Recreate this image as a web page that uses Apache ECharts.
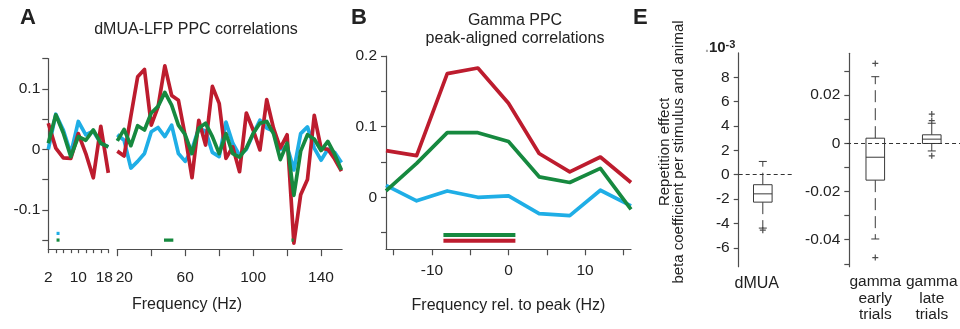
<!DOCTYPE html>
<html>
<head>
<meta charset="utf-8">
<script src="https://cdn.jsdelivr.net/npm/echarts@6/dist/echarts.min.js"></script>
<style>
html, body { margin: 0; background: #fff; }
#chart { width: 960px; height: 329px; }
</style>
</head>
<body>
<div id="chart"></div>
<script>
// ---- panel A : dMUA-LFP PPC correlations ----
var freqLow = [2, 4, 6, 8, 10, 12, 14, 16, 18];
var blueLow = [0.0, 0.058, 0.032, -0.007, 0.046, 0.024, 0.03, 0.01, 0.004];
var redLow = [0.043, 0.002, -0.014, -0.015, 0.026, -0.007, -0.047, 0.038, -0.039];
var greenLow = [0.01, 0.057, 0.027, -0.012, 0.021, 0.015, 0.032, 0.01, 0.004];

var freqHigh = [20, 24, 28, 32, 36, 40, 44, 48, 52, 56, 60, 64, 68, 72, 76, 80, 84,
  88, 92, 96, 100, 104, 108, 112, 116, 120, 124, 128, 132, 136, 140, 144, 148, 152];
var blueHigh = [0.024, 0.015, -0.031, -0.02, -0.007, 0.029, 0.036, 0.021, 0.04, -0.007,
  -0.02, 0.0, 0.035, 0.03, -0.005, -0.012, 0.045, 0.01, -0.01, 0.0,
  0.025, 0.048, 0.035, 0.03, 0.0, 0.005, -0.034, 0.026, 0.037, 0.002,
  -0.018, 0.0, -0.005, -0.022];
var redHigh = [-0.003, -0.011, 0.055, 0.12, 0.132, 0.04, 0.07, 0.138, 0.089, 0.081,
  0.022, -0.047, 0.048, 0.007, 0.104, 0.076, -0.015, 0.004, -0.037, 0.06,
  0.032, -0.001, 0.082, 0.035, 0.002, 0.024, -0.155, -0.075, -0.05, 0.056,
  0.002, 0.0, -0.016, -0.036];
var greenHigh = [0.014, 0.033, 0.006, 0.039, 0.032, 0.06, 0.071, 0.094, 0.073, 0.04,
  0.024, -0.007, 0.035, 0.043, 0.021, -0.007, 0.026, -0.007, -0.013, 0.002,
  0.026, 0.043, 0.046, 0.026, -0.017, 0.01, -0.076, -0.003, 0.024, 0.017,
  -0.002, 0.013, -0.008, -0.034];

// significance marks (frequency ranges) and their levels
var sigBlueLow = [[4.2, 5.0]];
var sigGreenLow = [[4.2, 5.0]];
var sigGreenHigh = [[47.5, 53], [122.6, 123.8]];
var sigLevelBlueA = -0.139;
var sigLevelGreenA = -0.15;

var ticksALow = [2, 4, 6, 8, 10, 12, 14, 16, 18];
var labelsALow = [2, 10, 18];
var ticksAHigh = [20, 40, 60, 80, 100, 120, 140];
var labelsAHigh = [20, 60, 100, 140];
var ticksAY = [-0.15, -0.1, -0.05, 0, 0.05, 0.1, 0.15];
var labelsAY = [-0.1, 0, 0.1];

// ---- panel B : gamma PPC peak-aligned ----
var relFreq = [-16, -12, -8, -4, 0, 4, 8, 12, 16];
var redB = [0.066, 0.059, 0.175, 0.183, 0.133, 0.062, 0.036, 0.057, 0.021];
var greenB = [0.009, 0.048, 0.0915, 0.0915, 0.079, 0.029, 0.021, 0.041, -0.017];
var blueB = [0.017, -0.005, 0.009, 0.0, 0.002, -0.023, -0.026, 0.010, -0.012];
var sigGreenB = [[-8.5, 0.9]];
var sigRedB = [[-8.5, 0.9]];
var sigLevelGreenB = -0.0534;
var sigLevelRedB = -0.0614;
var ticksBX = [-15, -10, -5, 0, 5, 10, 15];
var labelsBX = [-10, 0, 10];
var ticksBY = [-0.05, 0, 0.05, 0.1, 0.15, 0.2];
var labelsBY = [0, 0.1, 0.2];

// ---- panel E : repetition effect boxplots ----
var catsDmua = ['dMUA'];
// [min whisker, q1, median, q3, max whisker]  (units 1e-3)
var boxDmua = [[-4.38, -2.25, -1.57, -0.82, 1.09]];
var outDmua = [[0, -4.55]];
var ticksE1 = [-6, -4, -2, 0, 2, 4, 6, 8];

var catsGamma = ['gamma\nearly\ntrials', 'gamma\nlate\ntrials'];
var boxGamma = [
  [-0.0397, -0.0153, -0.0058, 0.0021, 0.0276],
  [-0.0032, -0.0001, 0.0017, 0.0035, 0.0083]
];
var outGamma = [[0, 0.0331], [0, -0.0474], [1, 0.0121], [1, 0.0094], [1, -0.0052]];
var ticksE2 = [-0.05, -0.04, -0.03, -0.02, -0.01, 0, 0.01, 0.02, 0.03];
var labelsE2 = [-0.04, -0.02, 0, 0.02];

var RED = '#BD1C2E', GREEN = '#16893F', BLUE = '#1FAEE6';
var AX = '#4d4d4d', TXT = '#222';
var FONT = '"Liberation Sans", Arial, Helvetica, sans-serif';
var TICK_FS = 15.5;

function pairs(xs, ys) {
  return xs.map(function (x, i) { return [x, ys[i]]; });
}
function segs(ranges, level) {
  var out = [];
  ranges.forEach(function (r, i) {
    if (i) out.push(null);
    out.push([r[0], level], [r[1], level]);
  });
  return out;
}
function lineS(data, color, xi, width, z) {
  return {
    type: 'line', data: data, xAxisIndex: xi, yAxisIndex: xi,
    symbol: 'none', silent: true, connectNulls: false, clip: false, z: z || 2,
    lineStyle: { color: color, width: width || 3.7, cap: 'butt', join: 'round' }
  };
}
function valueAxis(grid, min, max, ticks, labels, tickLen, margin, extra) {
  var a = {
    type: 'value', gridIndex: grid, min: min, max: max,
    splitLine: { show: false },
    axisLine: { show: true, onZero: false, lineStyle: { color: AX, width: 1.2 } },
    axisTick: { show: true, length: tickLen, customValues: ticks, lineStyle: { color: AX, width: 1.2 } },
    axisLabel: { show: true, customValues: labels, margin: margin, color: TXT,
      fontSize: TICK_FS, fontFamily: FONT }
  };
  for (var k in extra) a[k] = extra[k];
  return a;
}

function boxItem(params, api) {
  var c = api.value(0);
  var lo = api.coord([c, api.value(1)]);
  var q1 = api.coord([c, api.value(2)]);
  var md = api.coord([c, api.value(3)]);
  var q3 = api.coord([c, api.value(4)]);
  var hi = api.coord([c, api.value(5)]);
  var x = md[0], hw = 9.3, cw = 4;
  var solid = { stroke: '#3a3a3a', lineWidth: 1 };
  var dash = { stroke: '#3a3a3a', lineWidth: 1, lineDash: [12, 6] };
  return {
    type: 'group',
    children: [
      { type: 'line', shape: { x1: x, y1: q3[1], x2: x, y2: hi[1] }, style: dash },
      { type: 'line', shape: { x1: x, y1: q1[1], x2: x, y2: lo[1] }, style: dash },
      { type: 'line', shape: { x1: x - cw, y1: hi[1], x2: x + cw, y2: hi[1] }, style: solid },
      { type: 'line', shape: { x1: x - cw, y1: lo[1], x2: x + cw, y2: lo[1] }, style: solid },
      { type: 'rect', shape: { x: x - hw, y: q3[1], width: 2 * hw, height: q1[1] - q3[1] },
        style: { fill: '#fff', stroke: '#3a3a3a', lineWidth: 1 } },
      { type: 'line', shape: { x1: x - hw, y1: md[1], x2: x + hw, y2: md[1] }, style: solid }
    ]
  };
}
function boxData(stats) {
  return stats.map(function (s, i) { return [i].concat(s); });
}
var PLUS = 'path://M4,0h2v4h4v2h-4v4h-2v-4h-4v-2h4z';
var zeroLine = {
  silent: true, symbol: ['none', 'none'],
  label: { show: false },
  lineStyle: { color: '#333', width: 1, type: [4, 3] }
};

function title(text, cx, cy, size, weight, align) {
  return {
    text: text, left: cx, top: cy, padding: 0,
    textAlign: align || 'center', textVerticalAlign: 'middle',
    textStyle: { fontSize: size || 16, fontWeight: weight || 'normal', color: TXT, fontFamily: FONT }
  };
}

var chart = echarts.init(document.getElementById('chart'), null, { renderer: 'canvas' });
var option = {
  animation: false,
  backgroundColor: '#fff',
  title: [
    title('A', 20, 18, 22, 'bold', 'left'),
    title('dMUA-LFP PPC correlations', 196, 30),
    title('Frequency (Hz)', 187, 305),
    title('B', 351, 18, 22, 'bold', 'left'),
    title('Gamma PPC', 515, 21),
    title('peak-aligned correlations', 515, 39),
    title('E', 633, 18, 22, 'bold', 'left'),
    {
      text: '{d|.}{a|10}{b|-3}', left: 705, top: 48, padding: 0,
      textAlign: 'left', textVerticalAlign: 'middle',
      textStyle: { fontFamily: FONT, rich: {
        d: { color: '#aaa', fontSize: 14, fontFamily: FONT },
        a: { color: TXT, fontSize: 15, fontFamily: FONT },
        b: { color: TXT, fontSize: 11, fontFamily: FONT, verticalAlign: 'top', padding: [0, 0, 7, 0] }
      } }
    }
  ],
  graphic: [{
    type: 'text', x: 672, y: 152, rotation: Math.PI / 2, silent: true,
    style: {
      text: 'Repetition effect\nbeta coefficient per stimulus and animal',
      font: '15px ' + FONT, fill: TXT, textAlign: 'center', textVerticalAlign: 'middle',
      lineHeight: 14.5
    }
  }],
  grid: [
    { left: 48.3, top: 58.55, width: 60, height: 190.6 },
    { left: 117.3, top: 58.55, width: 224.8, height: 190.6 },
    { left: 386, top: 56, width: 245, height: 193.3 },
    { left: 738.7, top: 52.9, width: 48.2, height: 213.8 },
    { left: 847.05, top: 53.3, width: 126.6, height: 213.4 }
  ],
  xAxis: [
    valueAxis(0, 2, 18, ticksALow, labelsALow, 4, 21, {
      axisLabel: { show: true, customValues: labelsALow, margin: 21, color: TXT,
        fontSize: TICK_FS, fontFamily: FONT,
        formatter: function (v) { return v === 18 ? '{r|18}' : String(v); },
        rich: { r: { fontSize: TICK_FS, fontFamily: FONT, color: TXT, padding: [0, 8, 0, 0] } } }
    }),
    valueAxis(1, 20, 152.4, ticksAHigh, labelsAHigh, 7, 21, {
      axisLabel: { show: true, customValues: labelsAHigh, margin: 21, color: TXT,
        fontSize: TICK_FS, fontFamily: FONT,
        formatter: function (v) { return v === 20 ? '{l|20}' : String(v); },
        rich: { l: { fontSize: TICK_FS, fontFamily: FONT, color: TXT, padding: [0, 0, 0, 14] } } }
    }),
    valueAxis(2, -16, 16, ticksBX, labelsBX, 6, 13, {
      name: 'Frequency rel. to peak (Hz)', nameLocation: 'middle', nameGap: 48,
      nameTextStyle: { fontSize: 16, color: TXT, fontFamily: FONT }
    }),
    {
      type: 'category', gridIndex: 3, data: catsDmua,
      axisLine: { show: false }, axisTick: { show: false },
      axisLabel: { margin: 9, color: TXT, fontSize: 16, fontFamily: FONT,
        formatter: function (v) { return '{s|' + v + '}'; },
        rich: { s: { fontSize: 16, fontFamily: FONT, color: TXT, padding: [0, 12, 0, 0] } } }
    },
    {
      type: 'category', gridIndex: 4, data: catsGamma,
      axisLine: { show: false }, axisTick: { show: false },
      axisLabel: { margin: 7, interval: 0, hideOverlap: false, color: TXT, fontSize: 15.5,
        lineHeight: 16.5, fontFamily: FONT }
    }
  ],
  yAxis: [
    valueAxis(0, -0.165, 0.15, ticksAY, labelsAY, 6, 8),
    { type: 'value', gridIndex: 1, min: -0.165, max: 0.15, show: false },
    valueAxis(2, -0.0736, 0.2, ticksBY, labelsBY, 5, 9),
    valueAxis(3, -7.55, 10, ticksE1, ticksE1, 5, 9),
    valueAxis(4, -0.0512, 0.0373, ticksE2, labelsE2, 5, 9, { offset: -2.25 })
  ],
  series: [
    lineS(pairs(freqLow, blueLow), BLUE, 0),
    lineS(pairs(freqLow, redLow), RED, 0),
    lineS(pairs(freqLow, greenLow), GREEN, 0),
    lineS(pairs(freqHigh, blueHigh), BLUE, 1),
    lineS(pairs(freqHigh, redHigh), RED, 1),
    lineS(pairs(freqHigh, greenHigh), GREEN, 1),
    lineS(segs(sigBlueLow, sigLevelBlueA), BLUE, 0, 3.2, 5),
    lineS(segs(sigGreenLow, sigLevelGreenA), GREEN, 0, 3.2, 5),
    lineS(segs(sigGreenHigh, sigLevelGreenA), GREEN, 1, 3.2, 5),

    lineS(pairs(relFreq, blueB), BLUE, 2),
    lineS(pairs(relFreq, redB), RED, 2),
    lineS(pairs(relFreq, greenB), GREEN, 2),
    lineS(segs(sigGreenB, sigLevelGreenB), GREEN, 2, 4, 5),
    lineS(segs(sigRedB, sigLevelRedB), RED, 2, 4, 5),

    {
      type: 'scatter', xAxisIndex: 3, yAxisIndex: 3, data: outDmua, z: 1,
      symbol: PLUS, symbolSize: 6, itemStyle: { color: '#222' }, silent: true,
      markLine: Object.assign({ data: [[{ yAxis: 0, x: 738.7 }, { yAxis: 0, x: 794 }]] }, zeroLine)
    },
    {
      type: 'custom', xAxisIndex: 3, yAxisIndex: 3, data: boxData(boxDmua), z: 3,
      renderItem: boxItem, encode: { x: 0, y: [1, 2, 3, 4, 5] }, silent: true
    },
    {
      type: 'scatter', xAxisIndex: 4, yAxisIndex: 4, data: outGamma, z: 1,
      symbol: PLUS, symbolSize: 6, itemStyle: { color: '#222' }, silent: true,
      markLine: Object.assign({ data: [{ yAxis: 0 }] }, zeroLine)
    },
    {
      type: 'custom', xAxisIndex: 4, yAxisIndex: 4, data: boxData(boxGamma), z: 3,
      renderItem: boxItem, encode: { x: 0, y: [1, 2, 3, 4, 5] }, silent: true
    }
  ]
};
chart.setOption(option);
</script>
</body>
</html>
